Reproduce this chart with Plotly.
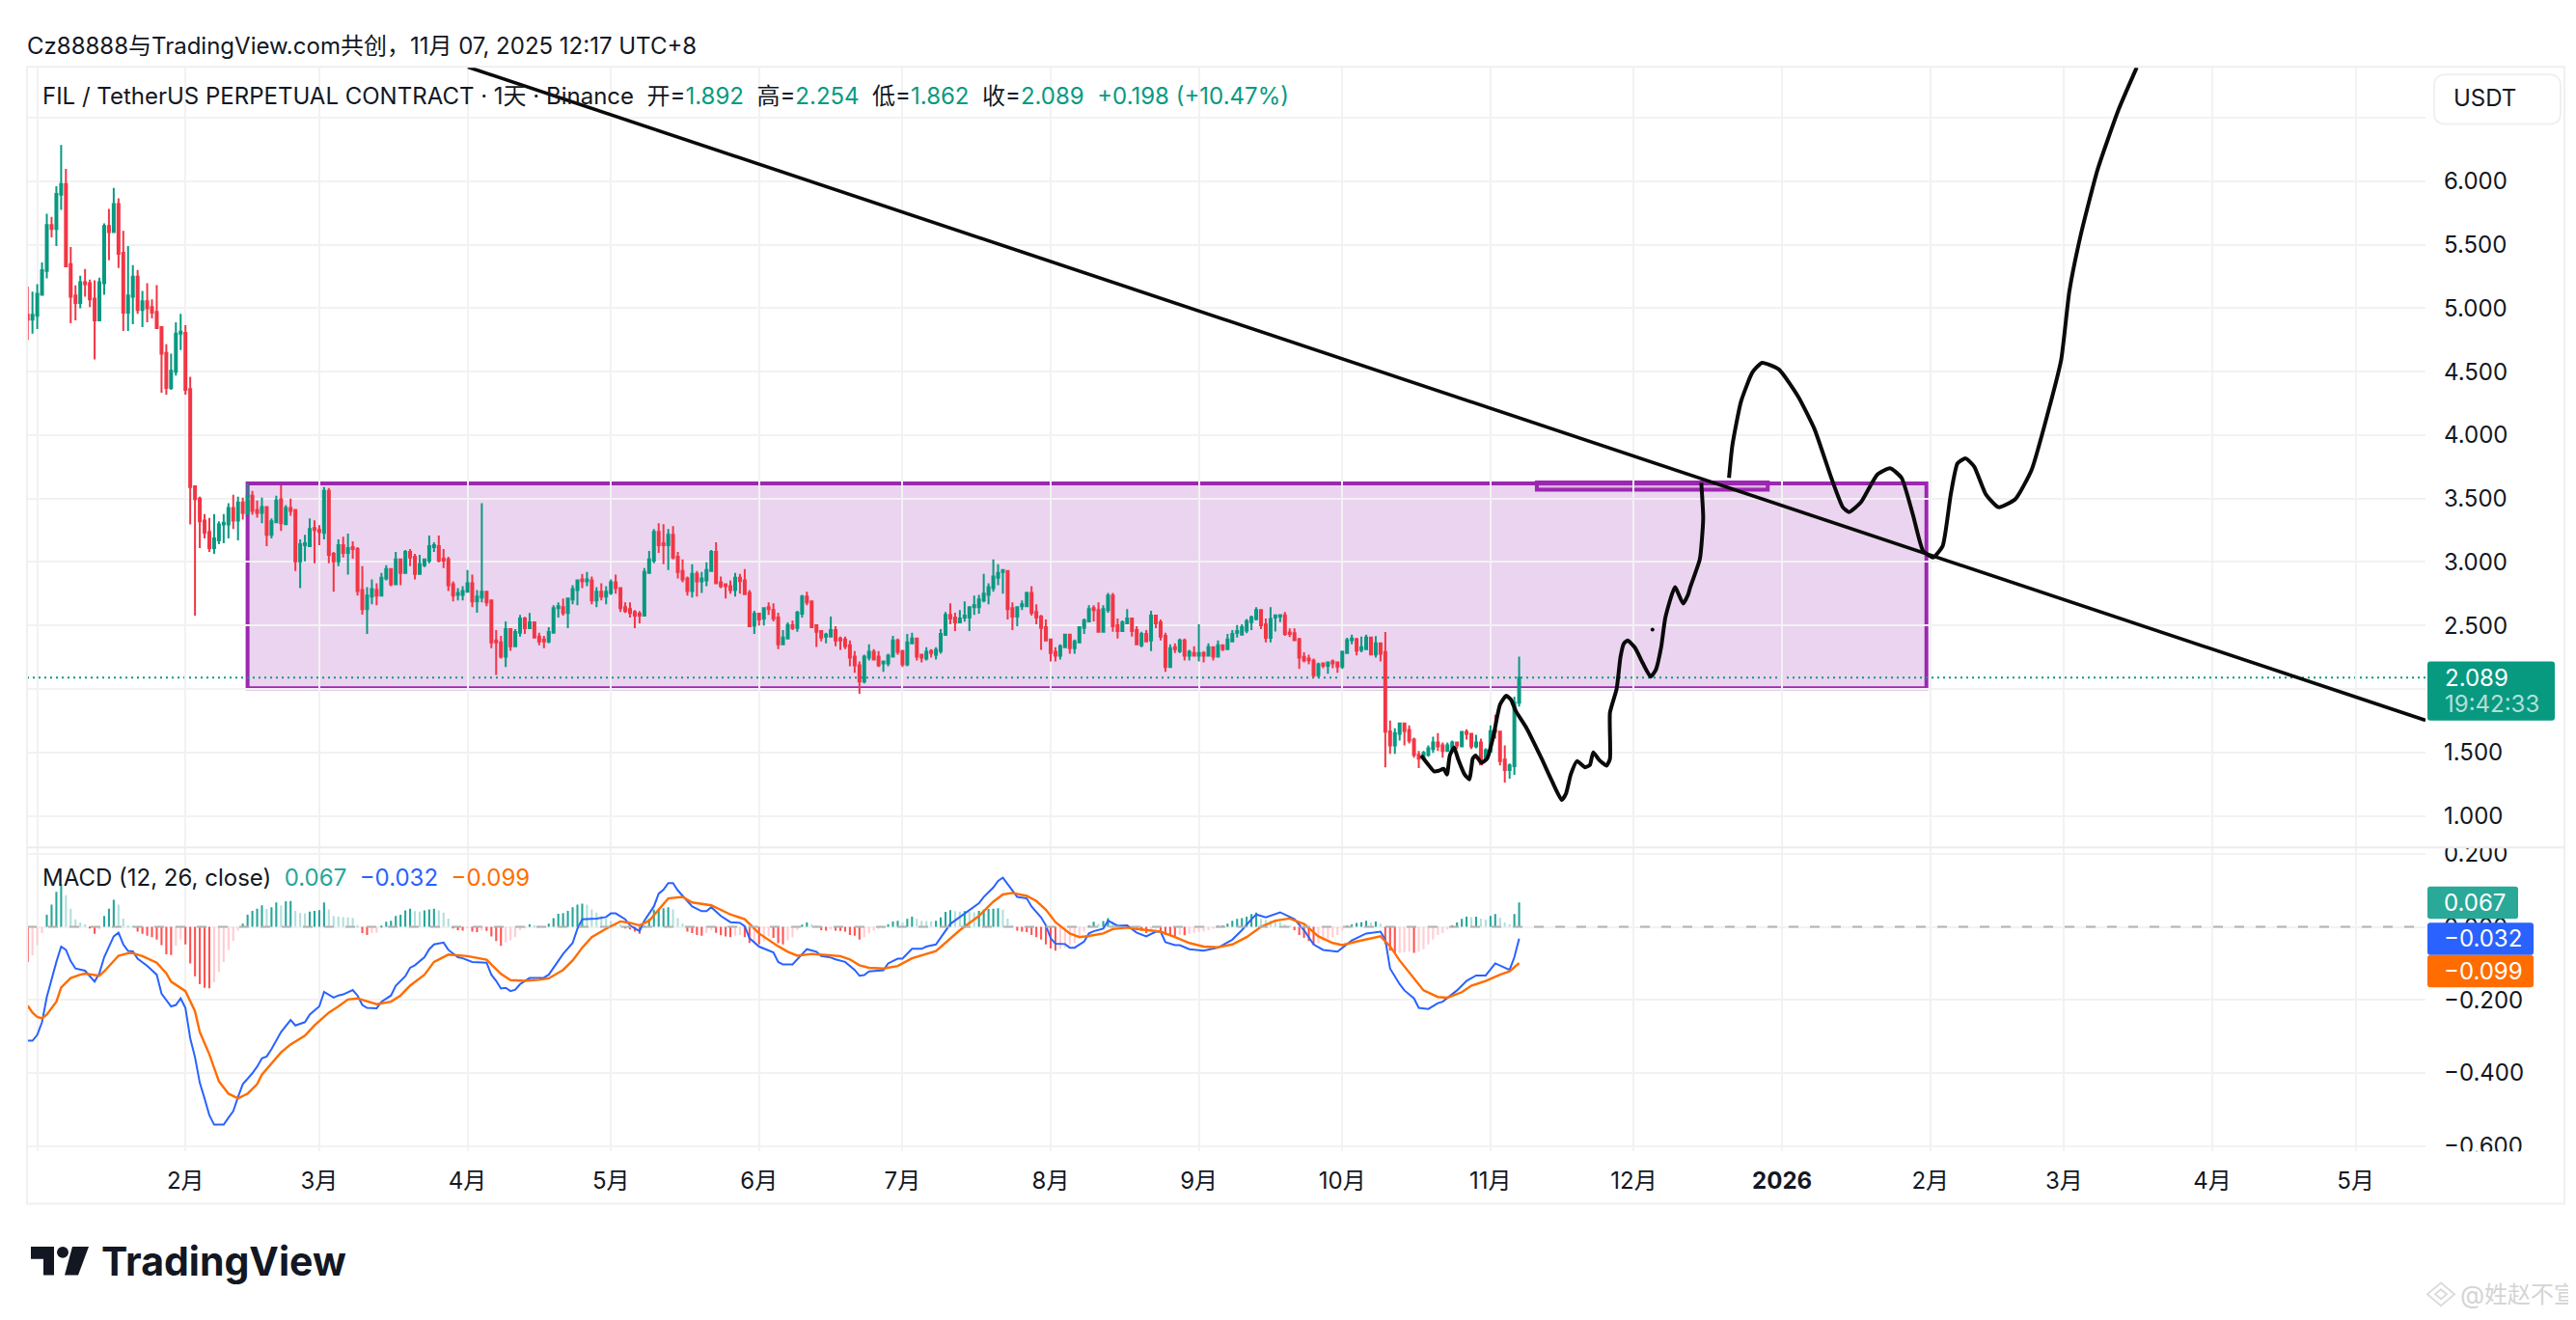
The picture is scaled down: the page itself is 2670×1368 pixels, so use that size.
import pandas as pd
import plotly.graph_objects as go

W, H = 2670, 1368
FONT = "Inter, 'Noto Sans CJK SC', sans-serif"
INK = "#131722"
UP = "#089981"
DOWN = "#f23645"
GRID = "#f2f2f2"
PURPLE = "#9c27b0"

# daily candles, 2024-12-30 to 2025-11-07
opens = [
    4.948, 4.91,
    4.94, 5.106, 5.294, 5.654, 5.624, 5.895, 5.977, 5.346, 5.10, 5.04, 5.204, 5.196, 5.076, 4.904, 5.196, 5.647, 5.60, 5.82, 5.437, 4.964, 5.091, 5.249, 4.986, 5.054, 5.009, 4.971, 4.851, 4.648, 4.371, 4.50, 4.80,
    4.806, 4.363, 3.597, 3.50, 3.327, 3.237, 3.11, 3.17, 3.297, 3.297, 3.425, 3.327, 3.47, 3.38, 3.523, 3.41, 3.388, 3.433, 3.215, 3.313, 3.493, 3.298, 3.425, 3.41, 3.005, 3.133, 3.125, 3.268,
    3.253, 3.23, 3.56, 3.065, 3.005, 3.133, 3.072, 3.118, 3.103, 2.78, 2.63, 2.727, 2.78, 2.735, 2.87, 2.945, 2.825, 3.02, 2.915, 3.08, 3.042, 2.907, 2.975, 3.012, 3.118, 3.125, 3.027, 3.02, 2.825, 2.742, 2.742,
    2.765, 2.832, 2.69, 2.72, 2.765, 2.697, 2.382, 2.367, 2.254, 2.472, 2.337, 2.442, 2.554, 2.479, 2.524, 2.412, 2.389, 2.374, 2.442, 2.637, 2.644, 2.599, 2.705, 2.78, 2.862, 2.847, 2.855, 2.697, 2.765, 2.727,
    2.757, 2.84, 2.795, 2.644, 2.629, 2.607, 2.592, 2.577, 2.915, 3.012, 3.238, 3.148, 3.133, 3.215, 3.042, 2.93, 2.87, 2.772, 2.907, 2.847, 2.855, 2.93, 3.08, 2.84, 2.825, 2.81, 2.78, 2.877, 2.855, 2.757, 2.50,
    2.592, 2.555, 2.644, 2.622, 2.562, 2.352, 2.397, 2.502, 2.48, 2.592, 2.727, 2.69, 2.502, 2.457, 2.412, 2.412, 2.464, 2.397, 2.389, 2.344, 2.254, 2.187, 2.059, 2.247, 2.292, 2.254, 2.202, 2.202, 2.254, 2.382,
    2.299, 2.194, 2.359, 2.397, 2.269, 2.239, 2.299, 2.269, 2.299, 2.427, 2.584, 2.562, 2.524, 2.562, 2.562, 2.644, 2.644, 2.697, 2.742, 2.795, 2.877, 2.922, 2.93, 2.637, 2.57, 2.652, 2.652, 2.757, 2.607, 2.57, 2.487,
    2.389, 2.292, 2.262, 2.329, 2.427, 2.322, 2.367, 2.48, 2.532, 2.637, 2.622, 2.45, 2.622, 2.735, 2.502, 2.457, 2.517, 2.554, 2.464, 2.344, 2.434, 2.382, 2.577, 2.524, 2.419, 2.172, 2.329, 2.299, 2.382, 2.262, 2.284,
    2.262, 2.284, 2.262, 2.329, 2.254, 2.344, 2.314, 2.374, 2.442, 2.427, 2.459, 2.527, 2.552, 2.622, 2.509, 2.402, 2.562, 2.57, 2.58, 2.444, 2.439, 2.392, 2.252, 2.239, 2.222, 2.109, 2.202, 2.182, 2.217, 2.209,
    2.177, 2.284, 2.384, 2.392, 2.307, 2.314, 2.404, 2.272, 2.359, 2.291, 1.666, 1.556, 1.646, 1.728, 1.676, 1.601, 1.481, 1.458, 1.481, 1.526, 1.578, 1.556, 1.511, 1.533, 1.578, 1.548, 1.661, 1.646, 1.548, 1.578, 1.451,
    1.506, 1.676, 1.663, 1.443, 1.361, 1.391, 1.892,
]
highs = [
    5.17, 5.13,
    5.19, 5.36, 5.744, 5.72, 5.96, 6.285, 6.097, 5.482, 5.18, 5.256, 5.309, 5.226, 5.219, 5.241, 5.669, 5.782, 5.947, 5.865, 5.609, 5.489, 5.339, 5.301, 5.136, 5.196, 5.069, 5.181, 4.859, 4.716, 4.641, 4.889, 4.956,
    4.866, 4.46, 3.60, 3.515, 3.377, 3.347, 3.377, 3.32, 3.377, 3.463, 3.53, 3.515, 3.508, 3.62, 3.56, 3.485, 3.508, 3.433, 3.343, 3.523, 3.605, 3.448, 3.50, 3.41, 3.178, 3.215, 3.343, 3.328,
    3.29, 3.59, 3.583, 3.08, 3.178, 3.2, 3.223, 3.163, 3.118, 2.967, 2.802, 2.862, 2.832, 2.915, 2.975, 2.952, 3.08, 3.027, 3.095, 3.103, 3.065, 3.057, 3.027, 3.208, 3.155, 3.208, 3.103, 3.042, 2.847, 2.795, 2.81,
    2.937, 2.90, 2.78, 3.463, 2.772, 2.705, 2.464, 2.419, 2.532, 2.479, 2.472, 2.584, 2.569, 2.599, 2.532, 2.442, 2.419, 2.487, 2.659, 2.682, 2.712, 2.72, 2.817, 2.855, 2.907, 2.922, 2.885, 2.802, 2.832, 2.81,
    2.862, 2.90, 2.802, 2.682, 2.682, 2.622, 2.614, 2.952, 3.087, 3.26, 3.305, 3.298, 3.26, 3.283, 3.08, 3.02, 2.885, 2.982, 2.93, 2.922, 2.997, 3.095, 3.155, 2.885, 2.832, 2.855, 2.915, 2.907, 2.945, 2.78, 2.615,
    2.592, 2.644, 2.682, 2.675, 2.60, 2.464, 2.524, 2.54, 2.615, 2.742, 2.765, 2.697, 2.502, 2.457, 2.442, 2.57, 2.494, 2.412, 2.412, 2.382, 2.299, 2.217, 2.269, 2.352, 2.314, 2.299, 2.224, 2.277, 2.419, 2.397,
    2.307, 2.434, 2.442, 2.404, 2.277, 2.329, 2.314, 2.329, 2.472, 2.607, 2.675, 2.60, 2.622, 2.69, 2.652, 2.735, 2.742, 2.907, 2.832, 3.02, 2.982, 2.937, 2.937, 2.682, 2.652, 2.697, 2.765, 2.81, 2.667, 2.584, 2.547,
    2.397, 2.329, 2.352, 2.434, 2.427, 2.389, 2.487, 2.555, 2.66, 2.66, 2.682, 2.66, 2.757, 2.757, 2.554, 2.54, 2.63, 2.562, 2.494, 2.45, 2.464, 2.615, 2.584, 2.547, 2.442, 2.352, 2.359, 2.397, 2.397, 2.307, 2.337,
    2.51, 2.299, 2.359, 2.337, 2.382, 2.352, 2.434, 2.464, 2.504, 2.51, 2.552, 2.577, 2.644, 2.622, 2.554, 2.644, 2.584, 2.584, 2.607, 2.477, 2.477, 2.402, 2.289, 2.269, 2.239, 2.207, 2.209, 2.217, 2.232, 2.214,
    2.302, 2.402, 2.427, 2.402, 2.412, 2.427, 2.412, 2.417, 2.364, 2.449, 1.751, 1.691, 1.736, 1.736, 1.713, 1.616, 1.511, 1.511, 1.556, 1.623, 1.653, 1.578, 1.578, 1.593, 1.578, 1.668, 1.683, 1.653, 1.638, 1.608, 1.533,
    1.713, 1.796, 1.668, 1.556, 1.413, 1.939, 2.254,
]
lows = [
    4.75, 4.80,
    4.836, 5.106, 5.234, 5.557, 5.49, 5.774, 5.324, 4.881, 4.904, 5.0, 5.09, 5.009, 4.596, 4.896, 5.106, 5.377, 5.60, 5.316, 4.821, 4.821, 4.874, 4.956, 4.851, 4.889, 4.919, 4.844, 4.333, 4.318, 4.356, 4.468, 4.671,
    4.318, 3.297, 2.577, 3.11, 3.185, 3.08, 3.065, 3.14, 3.147, 3.185, 3.26, 3.17, 3.335, 3.38, 3.373, 3.35, 3.305, 3.125, 3.185, 3.313, 3.245, 3.298, 3.365, 2.93, 2.795, 3.005, 3.125, 2.99,
    3.133, 3.178, 2.99, 2.765, 2.967, 3.035, 2.90, 3.027, 2.735, 2.585, 2.434, 2.667, 2.66, 2.735, 2.855, 2.81, 2.825, 2.817, 2.915, 2.967, 2.862, 2.907, 2.96, 2.99, 3.08, 2.997, 2.952, 2.772, 2.69, 2.697, 2.697,
    2.765, 2.645, 2.6, 2.682, 2.652, 2.322, 2.111, 2.239, 2.172, 2.30, 2.329, 2.412, 2.434, 2.479, 2.397, 2.344, 2.322, 2.359, 2.442, 2.562, 2.577, 2.479, 2.667, 2.659, 2.795, 2.81, 2.667, 2.644, 2.697, 2.667,
    2.742, 2.75, 2.607, 2.599, 2.562, 2.479, 2.517, 2.577, 2.915, 2.99, 3.072, 2.982, 2.937, 3.02, 2.87, 2.84, 2.735, 2.72, 2.727, 2.757, 2.81, 2.93, 2.825, 2.795, 2.712, 2.75, 2.727, 2.75, 2.742, 2.487, 2.434,
    2.50, 2.50, 2.584, 2.532, 2.314, 2.352, 2.397, 2.464, 2.45, 2.562, 2.66, 2.48, 2.33, 2.374, 2.36, 2.412, 2.337, 2.307, 2.314, 2.179, 2.127, 1.961, 2.044, 2.224, 2.224, 2.172, 2.134, 2.179, 2.247, 2.269,
    2.172, 2.179, 2.352, 2.224, 2.209, 2.224, 2.247, 2.232, 2.277, 2.419, 2.509, 2.457, 2.517, 2.53, 2.457, 2.584, 2.592, 2.682, 2.667, 2.765, 2.817, 2.75, 2.547, 2.464, 2.494, 2.622, 2.652, 2.577, 2.509, 2.307, 2.382,
    2.217, 2.217, 2.232, 2.329, 2.277, 2.277, 2.367, 2.434, 2.532, 2.532, 2.442, 2.442, 2.60, 2.45, 2.397, 2.457, 2.509, 2.412, 2.344, 2.329, 2.367, 2.299, 2.479, 2.382, 2.134, 2.172, 2.284, 2.284, 2.224, 2.224, 2.262,
    2.217, 2.209, 2.254, 2.224, 2.254, 2.299, 2.314, 2.374, 2.404, 2.427, 2.439, 2.464, 2.54, 2.472, 2.367, 2.367, 2.452, 2.527, 2.419, 2.409, 2.382, 2.157, 2.209, 2.194, 2.089, 2.089, 2.164, 2.119, 2.164, 2.127,
    2.157, 2.284, 2.352, 2.264, 2.289, 2.314, 2.272, 2.247, 2.217, 1.383, 1.488, 1.488, 1.593, 1.556, 1.571, 1.458, 1.376, 1.451, 1.466, 1.496, 1.511, 1.458, 1.511, 1.50, 1.526, 1.541, 1.601, 1.526, 1.533, 1.398, 1.443,
    1.50, 1.608, 1.398, 1.263, 1.293, 1.323, 1.862,
]
closes = [
    4.91, 4.948,
    5.114, 5.30, 5.654, 5.624, 5.90, 5.977, 5.33, 5.091, 5.04, 5.204, 5.19, 5.069, 4.904, 5.204, 5.647, 5.60, 5.82, 5.429, 4.964, 5.10, 5.249, 4.986, 5.054, 5.0, 4.964, 4.844, 4.641, 4.371, 4.506, 4.80, 4.814,
    4.356, 3.59, 3.495, 3.32, 3.23, 3.11, 3.185, 3.297, 3.31, 3.425, 3.327, 3.47, 3.388, 3.523, 3.403, 3.388, 3.433, 3.215, 3.32, 3.485, 3.305, 3.425, 3.403, 3.005, 3.14, 3.148, 3.26, 3.253,
    3.238, 3.56, 3.057, 3.005, 3.133, 3.072, 3.11, 3.103, 2.772, 2.63, 2.735, 2.787, 2.735, 2.877, 2.945, 2.825, 3.02, 2.915, 3.08, 3.035, 2.907, 2.982, 3.02, 3.125, 3.133, 3.012, 3.012, 2.817, 2.735, 2.757, 2.772,
    2.832, 2.69, 2.727, 2.765, 2.682, 2.367, 2.367, 2.254, 2.472, 2.337, 2.449, 2.554, 2.479, 2.524, 2.404, 2.374, 2.374, 2.449, 2.637, 2.652, 2.599, 2.712, 2.787, 2.855, 2.847, 2.862, 2.697, 2.765, 2.727, 2.765,
    2.84, 2.795, 2.637, 2.614, 2.599, 2.577, 2.577, 2.922, 3.02, 3.238, 3.133, 3.133, 3.215, 3.035, 2.922, 2.862, 2.772, 2.907, 2.847, 2.87, 2.937, 3.08, 2.832, 2.81, 2.81, 2.78, 2.877, 2.85, 2.747, 2.495, 2.592,
    2.547, 2.637, 2.629, 2.555, 2.352, 2.404, 2.502, 2.48, 2.60, 2.727, 2.682, 2.487, 2.45, 2.404, 2.427, 2.464, 2.382, 2.382, 2.337, 2.247, 2.187, 2.059, 2.254, 2.292, 2.232, 2.187, 2.217, 2.262, 2.382, 2.292,
    2.194, 2.367, 2.397, 2.254, 2.247, 2.292, 2.284, 2.307, 2.434, 2.584, 2.555, 2.524, 2.555, 2.577, 2.644, 2.66, 2.705, 2.75, 2.802, 2.885, 2.915, 2.937, 2.63, 2.57, 2.644, 2.667, 2.757, 2.60, 2.562, 2.48, 2.382,
    2.284, 2.262, 2.337, 2.427, 2.322, 2.374, 2.487, 2.54, 2.63, 2.622, 2.45, 2.63, 2.735, 2.494, 2.457, 2.524, 2.554, 2.457, 2.352, 2.434, 2.374, 2.577, 2.517, 2.412, 2.172, 2.322, 2.314, 2.382, 2.262, 2.292, 2.262,
    2.284, 2.262, 2.329, 2.254, 2.344, 2.314, 2.389, 2.434, 2.457, 2.487, 2.534, 2.564, 2.622, 2.502, 2.402, 2.552, 2.58, 2.582, 2.434, 2.434, 2.384, 2.247, 2.227, 2.227, 2.109, 2.194, 2.184, 2.209, 2.202, 2.177,
    2.292, 2.384, 2.397, 2.302, 2.329, 2.404, 2.272, 2.359, 2.277, 1.663, 1.556, 1.653, 1.728, 1.668, 1.593, 1.481, 1.451, 1.496, 1.533, 1.578, 1.548, 1.511, 1.556, 1.578, 1.556, 1.661, 1.646, 1.548, 1.578, 1.406, 1.518,
    1.668, 1.663, 1.431, 1.361, 1.398, 1.892, 2.089,
]

# MACD histogram, one value per candle
macd_hist = [
    -0.096, -0.078, -0.050, -0.017, 0.033, 0.061, 0.096, 0.117, 0.087, 0.050, 0.021, 0.012, 0.007, -0.002, -0.019, -0.007, 0.030, 0.050, 0.074, 0.061,
    0.023, 0.004, 0.003, -0.013, -0.019, -0.024, -0.028, -0.035, -0.050, -0.075, -0.077, -0.052, -0.035, -0.048, -0.100, -0.135, -0.157, -0.167, -0.168, -0.152,
    -0.124, -0.096, -0.063, -0.039, -0.010, 0.009, 0.033, 0.044, 0.050, 0.059, 0.049, 0.054, 0.067, 0.059, 0.070, 0.071, 0.044, 0.038, 0.037, 0.042,
    0.044, 0.046, 0.067, 0.048, 0.030, 0.028, 0.027, 0.026, 0.025, 0.005, -0.017, -0.022, -0.017, -0.016, 0.002, 0.014, 0.017, 0.030, 0.033, 0.045,
    0.050, 0.043, 0.042, 0.045, 0.048, 0.050, 0.045, 0.039, 0.023, -0.002, -0.009, -0.010, -0.004, -0.013, -0.014, -0.010, -0.011, -0.026, -0.039, -0.052,
    -0.042, -0.037, -0.028, -0.009, -0.002, 0.007, 0.005, 0.002, 0.001, 0.009, 0.024, 0.036, 0.038, 0.044, 0.054, 0.061, 0.064, 0.061, 0.048, 0.039,
    0.030, 0.023, 0.016, 0.010, 0.007, -0.002, -0.007, -0.013, -0.019, 0.002, 0.022, 0.047, 0.050, 0.051, 0.054, 0.048, 0.024, 0.009, -0.013, -0.017,
    -0.022, -0.024, -0.017, -0.009, -0.016, -0.023, -0.026, -0.028, -0.024, -0.022, -0.028, -0.044, -0.041, -0.048, -0.039, -0.026, -0.030, -0.045, -0.048, -0.037,
    -0.029, -0.009, 0.006, 0.012, 0.007, 0.002, -0.009, -0.010, -0.007, -0.010, -0.011, -0.013, -0.022, -0.024, -0.035, -0.028, -0.017, -0.010, -0.005, -0.003,
    0.007, 0.015, 0.017, 0.012, 0.022, 0.028, 0.022, 0.017, 0.016, 0.015, 0.017, 0.026, 0.041, 0.046, 0.043, 0.042, 0.043, 0.041, 0.040, 0.044,
    0.047, 0.049, 0.050, 0.051, 0.047, 0.023, 0.004, -0.010, -0.013, -0.014, -0.022, -0.028, -0.035, -0.048, -0.059, -0.065, -0.059, -0.057, -0.050, -0.044,
    -0.026, -0.013, 0.004, 0.014, 0.009, 0.016, 0.024, 0.014, 0.006, 0.003, 0.001, -0.007, -0.009, -0.011, -0.017, -0.010, -0.005, -0.011, -0.022, -0.024,
    -0.025, -0.022, -0.023, -0.019, -0.016, -0.014, -0.012, -0.009, -0.005, 0.002, 0.004, 0.009, 0.017, 0.022, 0.024, 0.028, 0.035, 0.039, 0.022, 0.019,
    0.017, 0.016, 0.013, 0.006, 0.002, -0.009, -0.022, -0.030, -0.039, -0.048, -0.044, -0.039, -0.033, -0.028, -0.022, -0.010, 0.002, 0.007, 0.011, 0.013,
    0.017, 0.012, 0.015, 0.009, -0.047, -0.065, -0.072, -0.071, -0.070, -0.068, -0.071, -0.068, -0.061, -0.048, -0.035, -0.022, -0.017, -0.007, 0.004, 0.012,
    0.022, 0.028, 0.027, 0.028, 0.023, 0.020, 0.030, 0.035, 0.025, 0.012, 0.007, 0.035, 0.067,
]

# MACD and signal lines, days counted from 2025-01-01
macd_days = [
    -2, -1, 0, 1, 2, 3, 4, 5, 6, 7, 8, 10, 12, 13, 14, 16, 17, 18, 19, 20, 21, 23, 25, 26, 28, 29, 30, 31, 32, 33, 34, 35, 36, 37, 39, 40, 41, 42, 43, 45, 46, 47, 48, 49, 50, 51, 53, 54, 56, 57, 59, 60, 62, 63, 64, 66, 67, 68, 69, 71, 72, 74, 75, 77, 78, 79, 81, 82, 83, 85, 86, 88, 89, 91, 94, 95, 96, 97, 98, 99, 100, 101, 103, 106, 107, 109, 110, 112, 113, 114, 117, 119, 120, 121, 123, 124, 126, 127, 129, 130, 131, 132, 133, 134, 136, 137, 139, 140, 141, 142, 143, 145, 147, 148, 149, 151, 152, 154,
    155, 156, 158, 160, 161, 163, 164, 166, 167, 169, 171, 172, 173, 174, 177, 178, 180, 181, 183, 185, 186, 188, 191, 193, 195, 197, 198, 200, 201, 202, 204, 205, 207, 208, 210, 211, 212, 213, 215, 216, 217, 219, 220, 221, 223, 224, 226, 228, 230, 232, 234, 235, 236, 238, 239, 241, 244, 246, 247, 250, 252, 254, 255, 257, 260, 263, 265, 267, 269, 272, 273, 275, 278, 281, 282, 283, 285, 286, 288, 289, 291, 293, 294, 297, 299, 301, 303, 305, 308, 309, 310,
]
macd_values = [
    -0.312, -0.312, -0.296, -0.261, -0.192, -0.140, -0.096, -0.054, -0.063, -0.094, -0.114, -0.120, -0.150, -0.127, -0.083, -0.026, -0.016, -0.048, -0.066, -0.067, -0.087, -0.107, -0.131, -0.183, -0.218, -0.214, -0.196, -0.222, -0.305, -0.357, -0.427, -0.470, -0.516, -0.542, -0.542, -0.523, -0.505, -0.466, -0.431, -0.401, -0.383, -0.360, -0.355, -0.335, -0.312, -0.288, -0.255, -0.270, -0.261, -0.240, -0.218, -0.178, -0.194, -0.188, -0.185, -0.173, -0.188, -0.214, -0.222, -0.223, -0.205, -0.188, -0.161, -0.135, -0.112, -0.105, -0.083, -0.061, -0.048, -0.043, -0.063, -0.083, -0.086, -0.096, -0.098, -0.131, -0.148, -0.169, -0.167, -0.176, -0.172, -0.157, -0.140, -0.139, -0.131, -0.092, -0.074, -0.044, -0.005, 0.021, 0.023, 0.027, 0.037, 0.037, 0.021, 0.004, -0.012, 0.017, 0.056, 0.091, 0.102, 0.120, 0.120, 0.100, 0.069, 0.056, 0.043, 0.043, 0.054, 0.043, 0.030, 0.013, 0.011, 0.002, -0.031, -0.054, -0.060, -0.070,
    -0.096, -0.103, -0.103, -0.074, -0.061, -0.068, -0.080, -0.084, -0.089, -0.096, -0.118, -0.134, -0.132, -0.122, -0.119, -0.100, -0.087, -0.087, -0.060, -0.060, -0.054, -0.048, 0.008, 0.027, 0.047, 0.065, 0.082, 0.108, 0.126, 0.135, 0.100, 0.082, 0.078, 0.056, 0.026, 0.004, -0.031, -0.046, -0.047, -0.057, -0.057, -0.040, -0.018, -0.012, -0.005, 0.017, 0.003, 0.004, -0.016, -0.026, -0.013, -0.013, -0.042, -0.050, -0.050, -0.061, -0.065, -0.060, -0.057, -0.035, -0.009, 0.021, 0.034, 0.026, 0.040, 0.021, -0.009, -0.048, -0.063, -0.068, -0.057, -0.037, -0.018, -0.013, -0.035, -0.114, -0.157, -0.174, -0.196, -0.222, -0.225, -0.209, -0.205, -0.174, -0.148, -0.133, -0.133, -0.100, -0.118, -0.083, -0.032,
]
signal_days = [
    -2, -1, 0, 1, 2, 4, 5, 7, 9, 10, 13, 14, 17, 19, 20, 22, 25, 27, 28, 31, 33, 34, 36, 38, 40, 42, 44, 46, 47, 49, 51, 53, 56, 58, 61, 63, 65, 67, 70, 71, 74, 76, 78, 81, 83, 85, 86, 90, 94, 95, 97, 99, 102, 105, 107, 110, 112, 114, 116, 119, 122, 124, 126, 128, 130, 132, 135, 137, 141, 145, 148, 151,
    155, 157, 159, 162, 165, 168, 170, 172, 174, 177, 180, 183, 188, 190, 193, 197, 200, 202, 204, 207, 209, 211, 213, 216, 218, 220, 223, 225, 228, 231, 235, 238, 241, 244, 247, 250, 253, 256, 259, 262, 265, 268, 271, 273, 276, 281, 283, 285, 288, 290, 293, 295, 298, 300, 303, 306, 308, 310,
]
signal_values = [
    -0.216, -0.235, -0.247, -0.251, -0.240, -0.205, -0.166, -0.140, -0.131, -0.128, -0.134, -0.122, -0.079, -0.072, -0.072, -0.080, -0.098, -0.127, -0.150, -0.176, -0.231, -0.288, -0.349, -0.423, -0.457, -0.470, -0.457, -0.431, -0.405, -0.375, -0.344, -0.322, -0.298, -0.270, -0.235, -0.218, -0.199, -0.196, -0.208, -0.212, -0.205, -0.188, -0.161, -0.131, -0.096, -0.083, -0.076, -0.080, -0.090, -0.103, -0.129, -0.146, -0.148, -0.145, -0.141, -0.118, -0.092, -0.057, -0.028, -0.005, 0.015, 0.011, 0.004, 0.017, 0.047, 0.078, 0.082, 0.067, 0.059, 0.034, 0.021, -0.018,
    -0.053, -0.068, -0.079, -0.074, -0.077, -0.080, -0.089, -0.105, -0.112, -0.114, -0.107, -0.086, -0.066, -0.044, -0.009, 0.030, 0.069, 0.089, 0.093, 0.085, 0.071, 0.047, 0.013, -0.018, -0.028, -0.025, -0.018, -0.006, -0.002, -0.007, -0.013, -0.028, -0.044, -0.054, -0.056, -0.048, -0.028, 0.000, 0.017, 0.023, 0.008, -0.026, -0.044, -0.050, -0.040, -0.026, -0.053, -0.092, -0.140, -0.174, -0.192, -0.194, -0.179, -0.161, -0.148, -0.131, -0.122, -0.099,
]

# hand drawn projection, days from 2025-01-01 and price
path_days_a = [289.5, 290.8, 292.2, 293.2, 294.2, 294.9, 295.5, 296.4, 297.2, 298.6, 299.6, 300.0, 300.3, 300.9, 302.1, 303.3, 304.6, 306.0, 307.3, 308.3, 309.3, 311.4, 314.7, 316.7, 318.9, 319.8, 320.8, 322.1, 323.8, 324.8, 325.5, 326.8, 328.3, 329.0, 329.0, 330.4, 331.2, 331.9, 332.7, 334.2, 335.9, 337.5, 338.6, 339.7, 340.6, 342.6, 344.3, 345.3, 345.8, 347.8, 348.5, 348.1]
path_prices_a = [1.476, 1.413, 1.351, 1.356, 1.371, 1.326, 1.476, 1.538, 1.451, 1.326, 1.288, 1.376, 1.451, 1.476, 1.418, 1.451, 1.626, 1.876, 1.946, 1.914, 1.826, 1.701, 1.451, 1.288, 1.125, 1.175, 1.326, 1.431, 1.383, 1.401, 1.501, 1.438, 1.396, 1.451, 1.813, 2.001, 2.251, 2.357, 2.382, 2.327, 2.201, 2.096, 2.151, 2.327, 2.564, 2.802, 2.672, 2.739, 2.802, 3.023, 3.343, 3.624]
path_days_b = [353.9, 354.6, 356.4, 358.8, 360.8, 364.3, 368.4, 371.8, 375.3, 377.7, 379.0, 381.5, 384.9, 387.6, 390.0, 392.4, 394.5, 396.6, 398.6, 400.3, 401.7, 403.4, 405.2, 407.6, 410.3, 413.8, 417.2, 420.6, 423.4, 425.1, 427.5, 431.0, 435.4, 439.2]
path_prices_b = [3.663, 3.918, 4.263, 4.494, 4.570, 4.519, 4.302, 4.046, 3.663, 3.432, 3.394, 3.471, 3.688, 3.739, 3.663, 3.368, 3.087, 3.036, 3.126, 3.535, 3.777, 3.816, 3.752, 3.535, 3.432, 3.496, 3.726, 4.174, 4.596, 5.133, 5.580, 6.091, 6.565, 6.897]
dot_day = [337.9]
dot_price = [2.468]
trend_days = [90.1, 499.6]
trend_prices = [6.90, 1.753]
box_days = [44.0, 395.2]
box_prices = [2.006, 3.62]
small_box_days = [313.7, 362.0]
small_box_prices = [3.57, 3.627]
last_price = 2.089

price_ticks = [1.0, 1.5, 2.0, 2.5, 3.0, 3.5, 4.0, 4.5, 5.0, 5.5, 6.0, 6.5]
price_labels = ["1.000", "1.500", "2.000", "2.500", "3.000", "3.500", "4.000", "4.500", "5.000", "5.500", "6.000", ""]
macd_ticks = [-0.6, -0.4, -0.2, 0.0, 0.2]
month_ticks = ["2025-01-01", "2025-02-01", "2025-03-01", "2025-04-01", "2025-05-01", "2025-06-01", "2025-07-01", "2025-08-01", "2025-09-01", "2025-10-01", "2025-11-01", "2025-12-01", "2026-01-01", "2026-02-01", "2026-03-01", "2026-04-01", "2026-05-01"]
month_labels = ["<b>2025</b>", "2月", "3月", "4月", "5月", "6月", "7月", "8月", "9月", "10月", "11月", "12月", "<b>2026</b>", "2月", "3月", "4月", "5月"]


def day_to_date(days):
    return [(pd.Timestamp("2025-01-01") + pd.Timedelta(days=float(d))).strftime("%Y-%m-%d %H:%M") for d in days]


def px(x):
    return x / W


def py(y):
    return 1 - y / H


def rounded(x0, y0, x1, y1, r):
    # rounded rect path in paper coordinates, arguments in screen pixels
    pts = [(x0 + r, y0), (x1 - r, y0), (x1, y0), (x1, y0 + r), (x1, y1 - r), (x1, y1), (x1 - r, y1), (x0 + r, y1), (x0, y1), (x0, y1 - r), (x0, y0 + r), (x0, y0), (x0 + r, y0)]
    p = [(px(a), py(b)) for a, b in pts]
    return (f"M{p[0][0]},{p[0][1]} L{p[1][0]},{p[1][1]} Q{p[2][0]},{p[2][1]} {p[3][0]},{p[3][1]} "
            f"L{p[4][0]},{p[4][1]} Q{p[5][0]},{p[5][1]} {p[6][0]},{p[6][1]} L{p[7][0]},{p[7][1]} "
            f"Q{p[8][0]},{p[8][1]} {p[9][0]},{p[9][1]} L{p[10][0]},{p[10][1]} Q{p[11][0]},{p[11][1]} {p[12][0]},{p[12][1]} Z")


def poly(points):
    return "M" + " L".join(f"{px(a)},{py(b)}" for a, b in points) + " Z"


def label(x, y, text, size=24, color=INK, anchor="left"):
    return dict(xref="paper", yref="paper", x=px(x), y=py(y), text=text, showarrow=False, xanchor=anchor, yanchor="middle",
                font=dict(family=FONT, size=size, color=color), borderpad=0, borderwidth=0)


candle_dates = pd.date_range("2024-12-30", periods=len(closes)).strftime("%Y-%m-%d").tolist()

# teal/red strong when the bar grows in its direction, pale when it shrinks
hist_colors = []
prev = macd_hist[0]
for v in macd_hist:
    if v >= 0:
        hist_colors.append("#26a69a" if v >= prev else "#b2dfdb")
    else:
        hist_colors.append("#ffcdd2" if v > prev else "#ff5252")
    prev = v

fig = go.Figure()
fig.add_trace(go.Candlestick(x=candle_dates, open=opens, high=highs, low=lows, close=closes, whiskerwidth=0,
                             increasing=dict(line=dict(color=UP, width=2), fillcolor=UP),
                             decreasing=dict(line=dict(color=DOWN, width=2), fillcolor=DOWN),
                             xaxis="x", yaxis="y"))
fig.add_trace(go.Scatter(x=day_to_date(trend_days), y=trend_prices, mode="lines", line=dict(color="#0a0a0a", width=3.6), xaxis="x", yaxis="y"))
for days, prices in [(path_days_a, path_prices_a), (path_days_b, path_prices_b)]:
    fig.add_trace(go.Scatter(x=day_to_date(days), y=prices, mode="lines", line=dict(color="#0a0a0a", width=4, shape="spline", smoothing=0.5), xaxis="x", yaxis="y"))
fig.add_trace(go.Scatter(x=day_to_date(dot_day), y=dot_price, mode="markers", marker=dict(color="#0a0a0a", size=4), xaxis="x", yaxis="y"))

fig.add_trace(go.Bar(x=candle_dates, y=macd_hist, marker=dict(color=hist_colors, line=dict(width=0)), width=0.42 * 86400000, xaxis="x2", yaxis="y2"))
fig.add_trace(go.Scatter(x=day_to_date(macd_days), y=macd_values, mode="lines", line=dict(color="#2962ff", width=2), xaxis="x2", yaxis="y2"))
fig.add_trace(go.Scatter(x=day_to_date(signal_days), y=signal_values, mode="lines", line=dict(color="#ff6d00", width=2.4), xaxis="x2", yaxis="y2"))

x_start, x_end = day_to_date([-2.14, 499.6])
box_x = day_to_date(box_days)
small_x = day_to_date(small_box_days)

shapes = [
    dict(type="rect", xref="x", yref="y", x0=box_x[0], x1=box_x[1], y0=box_prices[0], y1=box_prices[1], layer="below",
         fillcolor="rgba(156,39,176,0.2)", line=dict(color=PURPLE, width=4)),
    dict(type="rect", xref="x", yref="y", x0=small_x[0], x1=small_x[1], y0=small_box_prices[0], y1=small_box_prices[1], layer="below",
         fillcolor="rgba(156,39,176,0.2)", line=dict(color=PURPLE, width=4)),
    dict(type="line", xref="x", yref="y", x0=x_start, x1=x_end, y0=last_price, y1=last_price, layer="below",
         line=dict(color=UP, width=2, dash="2px,4px")),
    dict(type="line", xref="x2", yref="y2", x0=x_start, x1=x_end, y0=0, y1=0, layer="above",
         line=dict(color="#b2b2b2", width=2, dash="10px,12px")),
    # clip the axis labels that the panes cut off
    dict(type="rect", xref="paper", yref="paper", x0=px(2508), x1=px(2648), y0=py(862), y1=py(873), fillcolor="white", line=dict(width=0), layer="above"),
    dict(type="rect", xref="paper", yref="paper", x0=px(2508), x1=px(2648), y0=py(1192), y1=py(1215), fillcolor="white", line=dict(width=0), layer="above"),
    dict(type="rect", xref="paper", yref="paper", x0=0, x1=px(19), y0=py(1192), y1=py(1247), fillcolor="white", line=dict(width=0), layer="above"),
    # frame and pane separator
    dict(type="rect", xref="paper", yref="paper", x0=px(20), x1=px(2650), y0=py(1247), y1=py(54), line=dict(color="#f0f0f0", width=2), layer="above"),
    dict(type="line", xref="paper", yref="paper", x0=px(20), x1=px(2650), y0=py(873), y1=py(873), line=dict(color="#ececec", width=2), layer="above"),
    # last value tags
    dict(type="path", xref="paper", yref="paper", path=rounded(2508, 678, 2640, 740, 3), fillcolor=UP, line=dict(width=0), layer="above"),
    dict(type="path", xref="paper", yref="paper", path=rounded(2508, 914, 2602, 948, 3), fillcolor="#2aa898", line=dict(width=0), layer="above"),
    dict(type="path", xref="paper", yref="paper", path=rounded(2508, 952, 2618, 986, 3), fillcolor="#2962ff", line=dict(width=0), layer="above"),
    dict(type="path", xref="paper", yref="paper", path=rounded(2508, 986, 2618, 1020, 3), fillcolor="#ff6d00", line=dict(width=0), layer="above"),
    # currency button
    dict(type="path", xref="paper", yref="paper", path=rounded(2515, 62, 2646, 114, 12), fillcolor="white", line=dict(color="#f0f0f0", width=2), layer="above"),
    # logo
    dict(type="path", xref="paper", yref="paper", path=poly([(24, 1292), (48, 1292), (48, 1322), (37, 1322), (37, 1305), (24, 1305)]), fillcolor=INK, line=dict(width=0), layer="above"),
    dict(type="circle", xref="paper", yref="paper", x0=px(51), x1=px(63), y0=py(1304), y1=py(1292), fillcolor=INK, line=dict(width=0), layer="above"),
    dict(type="path", xref="paper", yref="paper", path=poly([(67, 1292), (84, 1292), (73, 1322), (59, 1322)]), fillcolor=INK, line=dict(width=0), layer="above"),
    # watermark icon
    dict(type="path", xref="paper", yref="paper", path=poly([(2522, 1330), (2536, 1342), (2522, 1354), (2508, 1342)]), fillcolor="rgba(0,0,0,0)", line=dict(color="#dcdcdc", width=2), layer="above"),
    dict(type="path", xref="paper", yref="paper", path=poly([(2522, 1337), (2528, 1342), (2522, 1347), (2516, 1342)]), fillcolor="rgba(0,0,0,0)", line=dict(color="#dcdcdc", width=2), layer="above"),
]

GAP = "\u00a0"
title_text = (f"FIL / TetherUS PERPETUAL CONTRACT · 1天 · Binance{GAP}{GAP}开=<span style='color:{UP}'>1.892</span>{GAP}{GAP}"
              f"高=<span style='color:{UP}'>2.254</span>{GAP}{GAP}低=<span style='color:{UP}'>1.862</span>{GAP}{GAP}"
              f"收=<span style='color:{UP}'>2.089</span>{GAP}{GAP}<span style='color:{UP}'>+0.198 (+10.47%)</span>")
macd_text = (f"MACD (12, 26, close){GAP}{GAP}<span style='color:#26a69a'>0.067</span>{GAP}{GAP}"
             f"<span style='color:#2962ff'>−0.032</span>{GAP}{GAP}<span style='color:#ff6d00'>−0.099</span>")

annotations = [
    label(20, 32, "Cz88888与TradingView.com共创，11月 07, 2025 12:17 UTC+8"),
    label(36, 85, title_text),
    label(36, 905, macd_text),
    label(2535, 87, "USDT"),
    label(2526, 695, "2.089", color="white"),
    label(2526, 722, "19:42:33", color="rgba(255,255,255,0.7)"),
    label(2525, 931, "0.067", color="white"),
    label(2525, 969, "−0.032", color="white"),
    label(2525, 1003, "−0.099", color="white"),
    label(97, 1307, "<b>TradingView</b>", size=41),
    label(2542, 1342, "@", size=26, color="#d4d4d4"),
    label(2567, 1342, "姓赵不宣", size=24, color="#d4d4d4"),
]

axis_font = dict(family=FONT, size=24, color=INK)
fig.update_layout(
    width=W, height=H, margin=dict(l=0, r=0, t=0, b=0),
    paper_bgcolor="white", plot_bgcolor="white", showlegend=False, hovermode=False,
    boxgap=0.42, barmode="overlay", font=dict(family=FONT),
    xaxis=dict(domain=[px(20), px(2506)], range=[x_start, x_end], type="date", anchor="y", rangeslider=dict(visible=False),
               tickvals=month_ticks, showticklabels=False, showgrid=True, gridcolor=GRID, gridwidth=2, zeroline=False, showline=False),
    yaxis=dict(domain=[py(873), py(54)], range=[0.752, 6.901], side="right", anchor="x", tickvals=price_ticks, ticktext=price_labels,
               tickfont=axis_font, ticks="", ticklabelstandoff=18, showgrid=True, gridcolor=GRID, gridwidth=2, zeroline=False, showline=False),
    xaxis2=dict(domain=[px(20), px(2506)], range=[x_start, x_end], type="date", anchor="y2", tickvals=month_ticks, ticktext=month_labels,
                tickfont=axis_font, ticks="", ticklabelstandoff=14, showgrid=True, gridcolor=GRID, gridwidth=2, zeroline=False, showline=False),
    yaxis2=dict(domain=[py(1192), py(873)], range=[-0.615, 0.218], side="right", anchor="x2", tickvals=macd_ticks, tickformat=".3f",
                tickfont=axis_font, ticks="", ticklabelstandoff=18, showgrid=True, gridcolor=GRID, gridwidth=2, zeroline=False, showline=False),
    shapes=shapes, annotations=annotations,
)

print(len(opens), len(highs), len(lows), len(closes), len(macd_hist), len(macd_days), len(macd_values), len(signal_days), len(signal_values))
fig.write_html("out.html")
